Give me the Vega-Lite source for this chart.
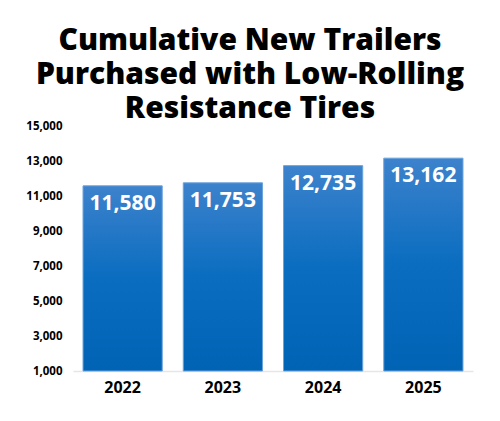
{
  "$schema": "https://vega.github.io/schema/vega-lite/v6.json",
  "width": 400,
  "height": 245,
  "autosize": "none",
  "padding": {"left": 73, "top": 126, "right": 27, "bottom": 50},
  "background": "white",
  "title": {
    "text": ["Cumulative New Trailers", "Purchased with Low-Rolling", "Resistance Tires"],
    "font": "Open Sans",
    "fontWeight": 800,
    "fontSize": 30,
    "lineHeight": 34,
    "color": "#000000",
    "anchor": "middle",
    "dx": -23,
    "offset": -4
  },
  "data": {
    "values": [
      {"year": "2022", "trailers": 11580},
      {"year": "2023", "trailers": 11753},
      {"year": "2024", "trailers": 12735},
      {"year": "2025", "trailers": 13162}
    ]
  },
  "encoding": {
    "x": {
      "field": "year",
      "type": "nominal",
      "title": null,
      "scale": {"paddingInner": 0.21, "paddingOuter": 0.1},
      "axis": {
        "labelAngle": 0,
        "labelFont": "Open Sans",
        "labelFontWeight": "bold",
        "labelFontSize": 16,
        "labelColor": "#000000",
        "labelPadding": 8,
        "ticks": false,
        "domainColor": "#e6e6e6",
        "domainWidth": 1.5
      }
    },
    "y": {
      "field": "trailers",
      "type": "quantitative",
      "title": null,
      "scale": {"domain": [1000, 15000], "zero": false, "nice": false},
      "axis": {
        "values": [1000, 3000, 5000, 7000, 9000, 11000, 13000, 15000],
        "format": ",.0f",
        "grid": false,
        "domain": false,
        "ticks": false,
        "labelFont": "Open Sans",
        "labelFontWeight": "bold",
        "labelFontSize": 11.5,
        "labelColor": "#000000",
        "labelPadding": 11
      }
    }
  },
  "layer": [
    {
      "mark": {
        "type": "bar",
        "stroke": "#6aa3dc",
        "strokeWidth": 1,
        "color": {
          "gradient": "linear",
          "x1": 0, "y1": 0, "x2": 0, "y2": 1,
          "stops": [
            {"offset": 0, "color": "#3d82cc"},
            {"offset": 0.5, "color": "#0a6dc0"},
            {"offset": 1, "color": "#0063b4"}
          ]
        }
      },
      "encoding": {"y2": {"datum": 1000}}
    },
    {
      "mark": {
        "type": "text",
        "color": "white",
        "font": "Open Sans",
        "fontWeight": "bold",
        "fontSize": 21,
        "baseline": "alphabetic",
        "dy": 24
      },
      "encoding": {"text": {"field": "trailers", "type": "quantitative", "format": ",.0f"}}
    }
  ],
  "config": {"view": {"stroke": null}}
}
